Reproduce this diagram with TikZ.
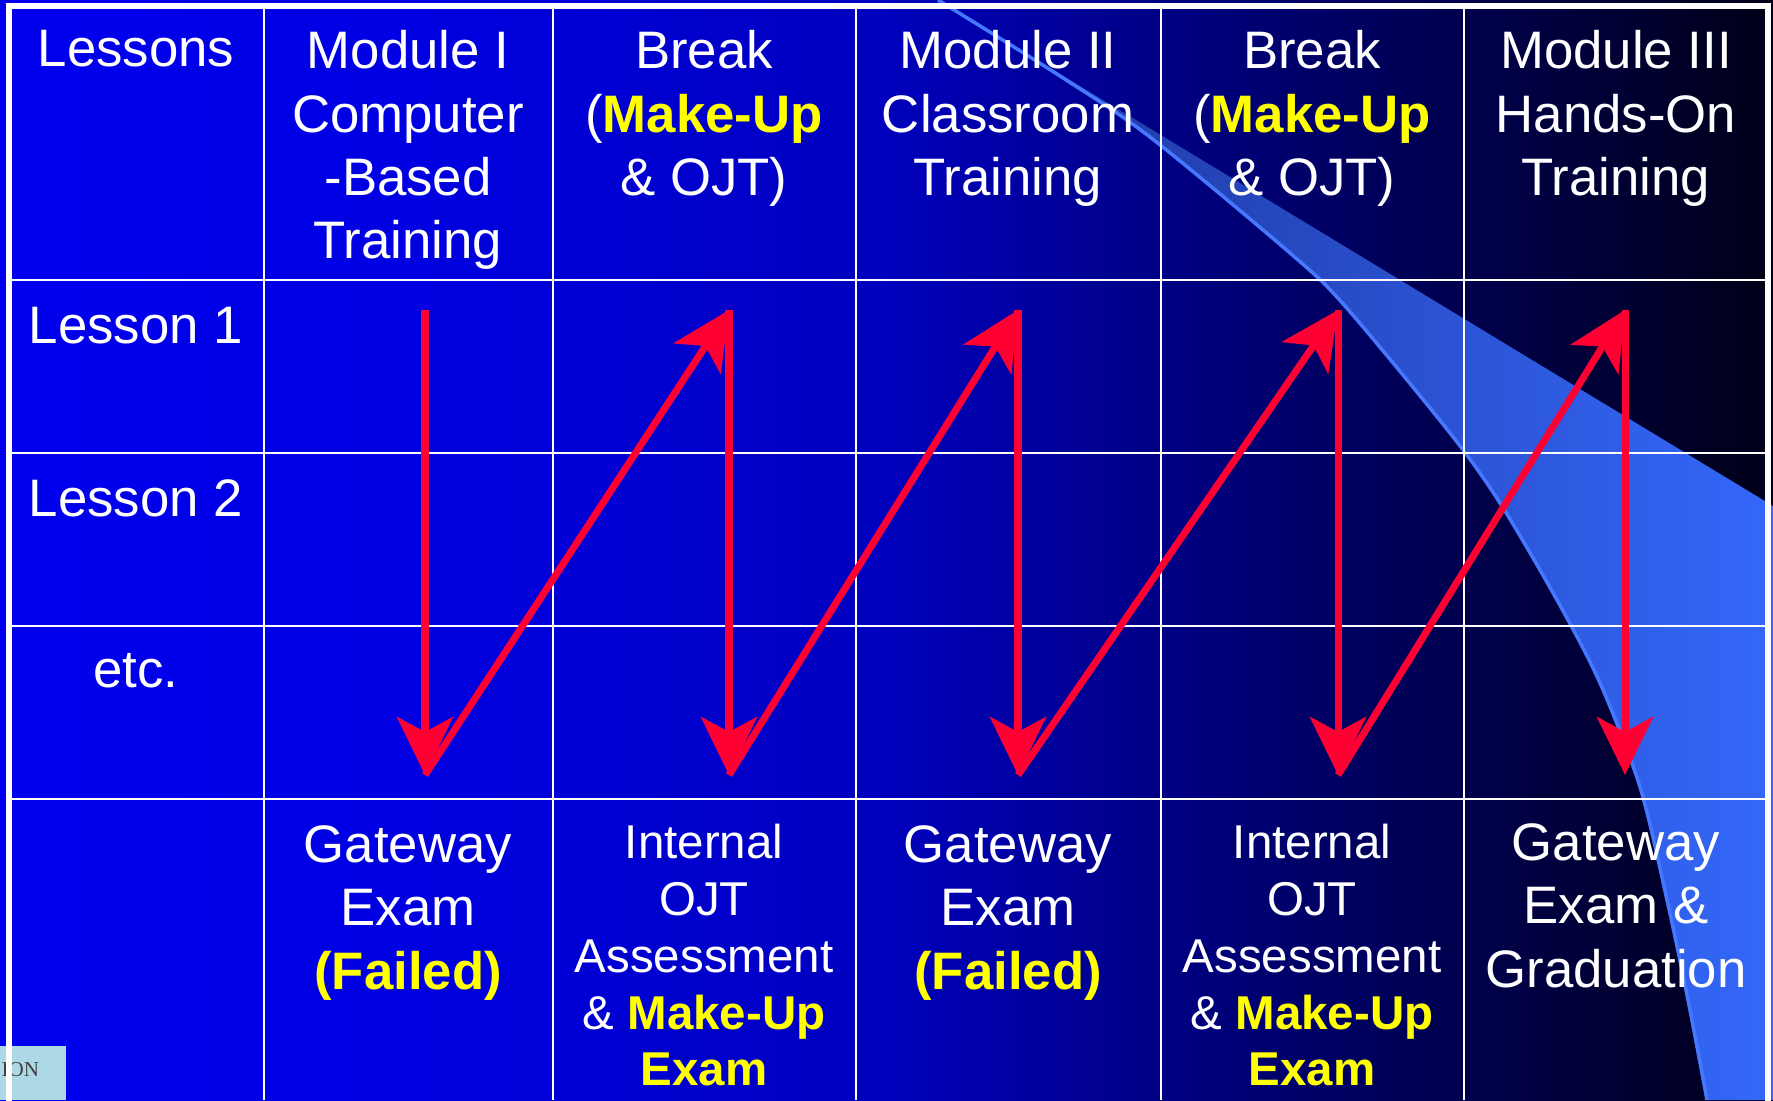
\documentclass[tikz,border=0pt]{standalone}
\usepackage{fontspec}
\setmainfont{Liberation Sans}
\newfontfamily\footerfont{Liberation Serif}
\usetikzlibrary{arrows.meta}
\definecolor{bg0}{RGB}{0,0,238}
\definecolor{bg1}{RGB}{0,0,226}
\definecolor{bg2}{RGB}{0,0,190}
\definecolor{bg3}{RGB}{0,0,105}
\definecolor{bg4}{RGB}{0,0,24}
\definecolor{swdark}{RGB}{28,50,150}
\definecolor{swlight}{RGB}{52,104,250}
\definecolor{swedge}{RGB}{70,120,255}
\definecolor{flowred}{RGB}{255,0,51}
\definecolor{hilite}{RGB}{255,255,0}
\definecolor{footerbg}{RGB}{173,216,230}
\newcommand{\mkup}[1]{\textcolor{hilite}{\bfseries #1}}

\begin{document}
\begin{tikzpicture}[x=0.01cm,y=-0.01cm]
  \tikzstyle{frame}=[draw=white,line width=1.5pt]
  \tikzstyle{grid}=[draw=white,line width=0.7pt]
  \tikzstyle{cell}=[text=white,align=center,inner sep=0pt,font=\fontsize{15}{18}\selectfont]
  \tikzstyle{smallcell}=[cell,font=\fontsize{13.5}{16.2}\selectfont]
  \tikzstyle{flow}=[draw=flowred,line width=2pt,-{Stealth[length=5.8mm,width=5.6mm,inset=1.5mm]}]
  \useasboundingbox (0,0) rectangle (1773,1100);
  \foreach \xa/\xb/\ca/\cb in {0/400/bg0/bg1,399/880/bg1/bg2,879/1300/bg2/bg3,1299/1773/bg3/bg4}
    \shade[left color=\ca,right color=\cb] (\xa,0) rectangle (\xb,1100);
  \shade[left color=swdark,right color=swlight] (938,0) -- (1773,506) -- (1773,1100) -- (1707,1100)
    -- plot[smooth] coordinates {(1707,1100) (1688,1000) (1667,900) (1640,787) (1600,683) (1557,600)
       (1500,503) (1450,433) (1345,306) (1290,253) (1150,137) (1060,76) (938,0)} -- cycle;
  \draw[swedge,line width=1pt] plot[smooth] coordinates {(938,0) (1060,76) (1150,137) (1290,253)
       (1345,306) (1450,433) (1500,503) (1557,600) (1600,683) (1640,787) (1667,900) (1688,1000) (1707,1100)};
  \fill[footerbg] (0,1046) rectangle (66,1100);
  \node[anchor=base west,inner sep=0pt,text=black!75,font=\footerfont\fontsize{6}{7}\selectfont] (footer) at (1,1076) {ION};
  \foreach \x in {264,553,856,1161,1464}
    \draw[grid] (\x,6) -- (\x,1100);
  \foreach \y in {280,453,626,799}
    \draw[grid] (9,\y) -- (1768,\y);
  \draw[frame] (9,1110) -- (9,6) -- (1768,6) -- (1768,1110);
  \foreach \i/\x in {1/425,2/729,3/1018,4/1338,5/1625} {
    \coordinate (top\i) at (\x,310);
    \coordinate (bot\i) at (\x,775);
  }
  \foreach \i in {1,...,5}
    \draw[flow] (top\i) -- (bot\i);
  \foreach \i/\j in {1/2,2/3,3/4,4/5}
    \draw[flow] (bot\i) -- (top\j);
  \node[cell,anchor=north] (hdlessons) at (136,30) {Lessons};
  \node[cell,anchor=north] (hdmodone) at (408,30) {Module I\\Computer\\-Based\\Training};
  \node[cell,anchor=north] (hdbreakone) at (704,30) {Break\\(\mkup{Make-Up}\\\& OJT)};
  \node[cell,anchor=north] (hdmodtwo) at (1008,30) {Module II\\Classroom\\Training};
  \node[cell,anchor=north] (hdbreaktwo) at (1312,30) {Break\\(\mkup{Make-Up}\\\& OJT)};
  \node[cell,anchor=north] (hdmodthree) at (1616,30) {Module III\\Hands-On\\Training};
  \node[cell,anchor=base] (lesone) at (136,343) {Lesson 1};
  \node[cell,anchor=base] (lestwo) at (136,516) {Lesson 2};
  \node[cell,anchor=base] (lesetc) at (136,687) {etc.};
  \node[cell,anchor=north] (examone) at (408,825) {Gateway\\Exam\\\mkup{(Failed)}};
  \node[smallcell,anchor=north] (ojtone) at (704,823) {Internal\\OJT\\Assessment\\\& \mkup{Make-Up}\\\mkup{Exam}};
  \node[cell,anchor=north] (examtwo) at (1008,825) {Gateway\\Exam\\\mkup{(Failed)}};
  \node[smallcell,anchor=north] (ojttwo) at (1312,823) {Internal\\OJT\\Assessment\\\& \mkup{Make-Up}\\\mkup{Exam}};
  \node[cell,anchor=north] (grad) at (1616,823) {Gateway\\Exam \&\\Graduation};
\end{tikzpicture}
\end{document}
